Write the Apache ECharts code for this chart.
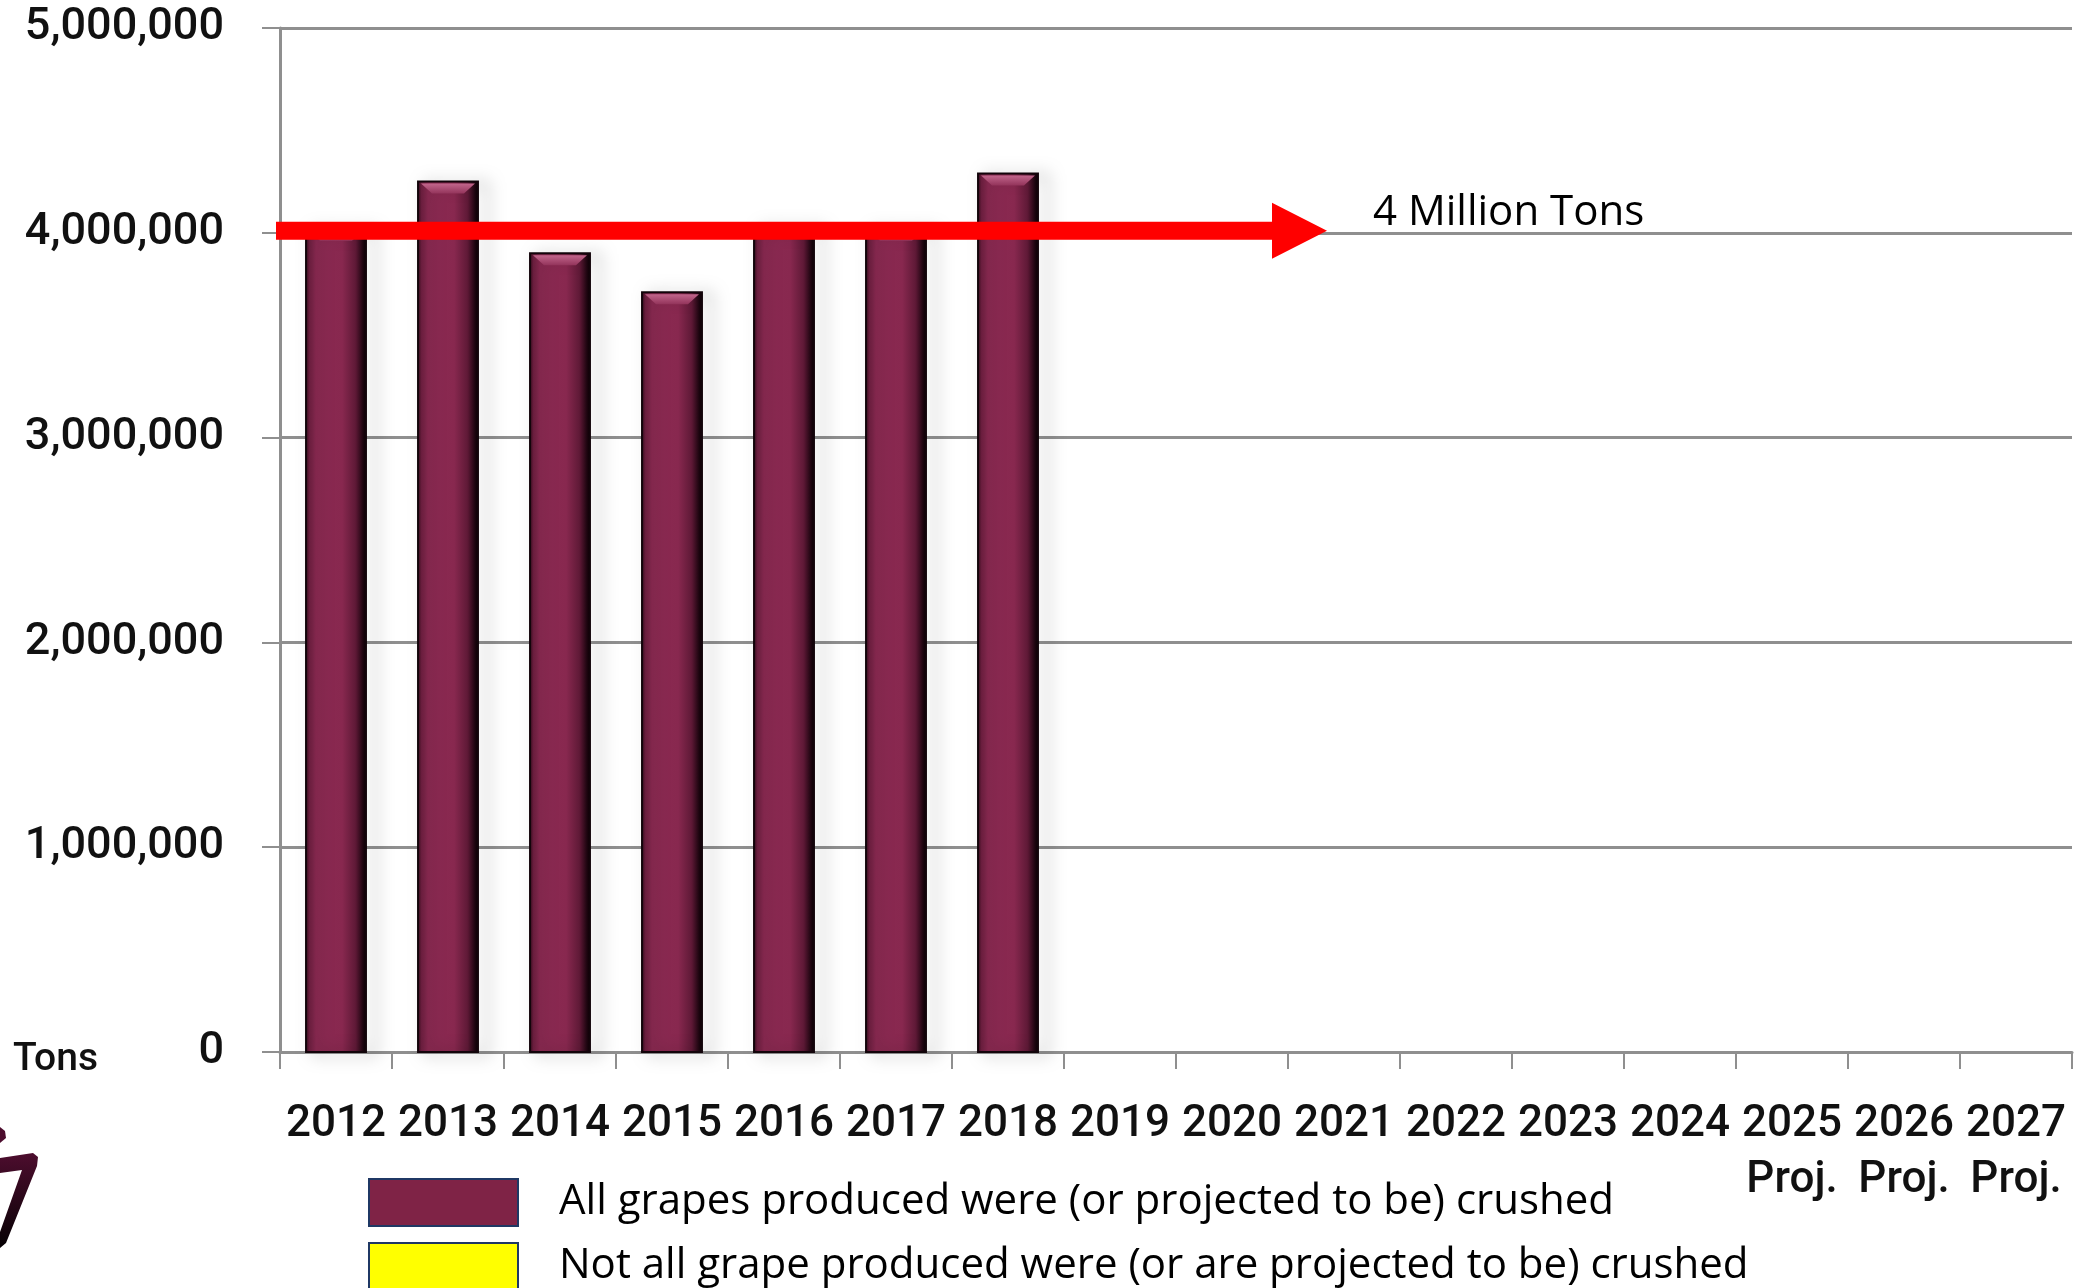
<!DOCTYPE html>
<html>
<head>
<meta charset="utf-8">
<title>Grape crush</title>
<script src="https://cdn.jsdelivr.net/npm/echarts@6/dist/echarts.min.js"></script>
<style>
  html, body { margin: 0; padding: 0; background: #ffffff; }
  #chart { width: 2085px; height: 1288px; }
</style>
</head>
<body>
<div id="chart"></div>
<script>
// Crop years shown on the category axis
const years = ['2012', '2013', '2014', '2015', '2016', '2017', '2018', '2019',
               '2020', '2021', '2022', '2023', '2024', '2025', '2026', '2027'];
// Years whose label carries a projection note
const projectedYears = ['2025', '2026', '2027'];
// Tons of grapes crushed (all production crushed)
const crushedAll = [4020000, 4250000, 3900000, 3710000, 4030000, 4020000, 4290000,
                    null, null, null, null, null, null, null, null, null];
// Tons where not all production was crushed (none reported)
const crushedPartial = [null, null, null, null, null, null, null, null,
                        null, null, null, null, null, null, null, null];
// Reference level marked by the arrow
const thresholdTons = 4000000;
const thresholdLabel = '4 Million Tons';
const seriesNames = ['All grapes produced were (or projected to be) crushed',
                     'Not all grape produced were (or are projected to be) crushed'];

const MAROON = '#7F2346';
const YELLOW = '#FFFF00';
const SWATCH_EDGE = '#1F3864';
const GRID_GRAY = '#8f8f8f';
const LABEL_FONT = 'Roboto, "DejaVu Sans", sans-serif';
const TEXT_FONT = '"Open Sans", "Noto Sans", sans-serif';

const chart = echarts.init(document.getElementById('chart'), null, { renderer: 'canvas' });

const bodyFill = new echarts.graphic.LinearGradient(0, 0, 1, 0, [
  { offset: 0, color: '#2a0816' },
  { offset: 0.07, color: '#6e1f40' },
  { offset: 0.18, color: '#8b2a52' },
  { offset: 0.6, color: '#88284f' },
  { offset: 0.82, color: '#5e1936' },
  { offset: 0.94, color: '#1c050f' },
  { offset: 1, color: '#0a0205' }
]);
const bevelFill = new echarts.graphic.LinearGradient(0, 0, 0, 1, [
  { offset: 0, color: '#c2668c' },
  { offset: 1, color: '#93345b' }
]);

// Bevelled column with a soft drop shadow, placed from its data value
function renderBar(params, api) {
  const v = api.value(1);
  if (v == null || isNaN(v)) return null;
  const top = api.coord([api.value(0), v]);
  const base = api.coord([api.value(0), 0]);
  const bw = api.size([1, 0])[0] * 0.535;
  const l = top[0] - bw / 2, r = top[0] + bw / 2, t = top[1], b = base[1];
  return {
    type: 'group',
    children: [
      {
        type: 'rect',
        shape: { x: l, y: t, width: bw, height: b - t },
        style: {
          fill: bodyFill, stroke: '#12040a', lineWidth: 2,
          shadowBlur: 16, shadowOffsetX: 9, shadowOffsetY: 2,
          shadowColor: 'rgba(0,0,0,0.5)'
        }
      },
      {
        type: 'polygon',
        shape: { points: [[l + 3, t + 2], [r - 3, t + 2], [r - 14, t + 12], [l + 14, t + 12]] },
        style: { fill: bevelFill }
      }
    ]
  };
}

function legendBox(name, color, top) {
  return {
    orient: 'vertical',
    left: 368, top: top,
    padding: 0,
    itemWidth: 149, itemHeight: 47,
    selectedMode: false,
    icon: 'rect',
    textStyle: { fontFamily: TEXT_FONT, fontSize: 42, color: '#000', padding: [0, 0, 0, 36] },
    data: [{ name: name, itemStyle: { color: color, borderColor: SWATCH_EDGE, borderWidth: 2 } }]
  };
}

chart.setOption({
  animation: false,
  backgroundColor: '#ffffff',
  grid: { left: 280, right: 13, top: 28, bottom: 236, containLabel: false },
  legend: [
    legendBox(seriesNames[0], MAROON, 1178),
    legendBox(seriesNames[1], YELLOW, 1242)
  ],
  xAxis: {
    type: 'category',
    data: years,
    boundaryGap: true,
    axisLine: { show: true, lineStyle: { color: GRID_GRAY, width: 3 } },
    axisTick: { show: true, length: 17, alignWithLabel: false, interval: 0, lineStyle: { color: GRID_GRAY, width: 2 } },
    axisLabel: {
      interval: 0, margin: 45,
      fontFamily: LABEL_FONT, fontWeight: 500, fontSize: 44, color: '#111',
      lineHeight: 56,
      formatter: y => projectedYears.includes(y) ? y + '\nProj.' : y
    }
  },
  yAxis: {
    type: 'value',
    min: 0, max: 5000000, interval: 1000000,
    axisLine: { show: true, lineStyle: { color: GRID_GRAY, width: 3 } },
    axisTick: { show: true, length: 18, lineStyle: { color: GRID_GRAY, width: 2 } },
    splitLine: { show: true, lineStyle: { color: GRID_GRAY, width: 3 } },
    axisLabel: {
      margin: 56,
      fontFamily: LABEL_FONT, fontWeight: 500, fontSize: 45, color: '#111',
      padding: [10, 0, 0, 0],
      formatter: v => v.toLocaleString('en-US')
    }
  },
  series: [
    {
      name: seriesNames[0],
      type: 'custom',
      renderItem: renderBar,
      itemStyle: { color: MAROON },
      encode: { x: 0, y: 1 },
      data: crushedAll.map((v, i) => [i, v]),
      z: 2
    },
    {
      name: seriesNames[1],
      type: 'bar',
      itemStyle: { color: YELLOW },
      data: crushedPartial
    }
  ]
});

// Annotation: arrow at the 4 million ton level, plus the axis unit and logo mark
function drawOverlay() {
  const yPx = chart.convertToPixel({ yAxisIndex: 0 }, thresholdTons) - 2;
  const x0 = 276, headStart = 1272, tip = 1327;
  const half = 9, headHalf = 28;
  chart.setOption({
    graphic: [
      {
        type: 'polygon', z: 10,
        shape: { points: [
          [x0, yPx - half], [headStart, yPx - half], [headStart, yPx - headHalf],
          [tip, yPx], [headStart, yPx + headHalf], [headStart, yPx + half], [x0, yPx + half]
        ] },
        style: { fill: '#FF0000' }
      },
      {
        type: 'text', z: 10, left: 1373, top: yPx - 39,
        style: { text: thresholdLabel, font: '42px ' + TEXT_FONT, fill: '#000' }
      },
      {
        type: 'text', left: 13, top: 1041,
        style: { text: 'Tons', font: '500 39px ' + LABEL_FONT, fill: '#111' }
      },
      {
        type: 'polygon',
        shape: { points: [[0, 1158], [33, 1153], [38, 1157], [37, 1166], [6, 1243], [0, 1248], [0, 1232], [22, 1170], [0, 1173]] },
        style: {
          fill: new echarts.graphic.LinearGradient(0, 0, 0, 1, [
            { offset: 0, color: '#4d0d2e' }, { offset: 1, color: '#050103' }
          ])
        }
      },
      {
        type: 'polygon',
        shape: { points: [[0, 1127], [5, 1131], [6, 1138], [0, 1143]] },
        style: { fill: '#4d0d2e' }
      }
    ]
  });
}
drawOverlay();
</script>
</body>
</html>
